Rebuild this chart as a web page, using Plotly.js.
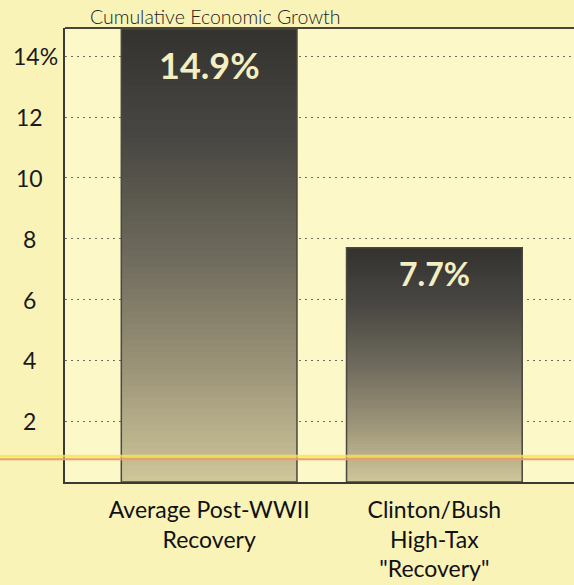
<!DOCTYPE html>
<html><head><meta charset="utf-8">
<script src="https://cdn.plot.ly/plotly-3.0.1.min.js"></script>
<style>html,body{margin:0;padding:0;background:#f9f3b8}</style>
</head><body><div id="chart" style="width:574px;height:585px"></div>
<script>
// ---- data ----
const categories = ["Average Post-WWII<br>Recovery", "Clinton/Bush<br>High-Tax<br>\"Recovery\""];
const values = [14.9, 7.7];
const valueLabels = ["14.9%", "7.7%"];
const yTickVals = [2, 4, 6, 8, 10, 12, 14];
const yTickText = ["2", "4", "6", "8", "10", "12", "14%"];
const referenceLineValue = 0.75;
const chartTitle = "Cumulative Economic Growth";

// ---- style ----
const gradStops = [[0, [207,198,154]], [0.25, [156,148,120]], [0.5, [110,106,92]], [0.75, [74,72,67]], [1, [51,50,48]]];
function gradColor(f) {
  for (let i = 0; i < gradStops.length - 1; i++) {
    const [f0, c0] = gradStops[i], [f1, c1] = gradStops[i + 1];
    if (f >= f0 && f <= f1) {
      const t = (f - f0) / (f1 - f0);
      const c = c0.map((v, j) => Math.round(v + (c1[j] - v) * t));
      return `rgb(${c[0]},${c[1]},${c[2]})`;
    }
  }
  return 'rgb(51,50,48)';
}
const N = 80;
const segX = [], segBase = [], segY = [], segCol = [];
values.forEach((v, i) => {
  for (let k = 0; k < N; k++) {
    const b = v * k / N;
    segX.push(categories[i]);
    segBase.push(b);
    segY.push(v - b);           // each segment reaches the bar top; later ones cover earlier
    segCol.push(gradColor((k + 0.5) / N));
  }
});
const barWidth = 0.78;

const traces = [
  { type: 'bar', x: segX, y: segY, base: segBase, width: barWidth,
    marker: { color: segCol, line: { width: 0 } }, hoverinfo: 'skip', showlegend: false },
  { type: 'bar', x: categories, y: values, width: barWidth,
    marker: { color: 'rgba(0,0,0,0)', line: { color: '#4a4840', width: 1.5 } },
    hoverinfo: 'skip', showlegend: false }
];

const annotations = [];
const labelSizes = [36, 32], labelShift = [-12, -4];
values.forEach((v, i) => {
  annotations.push({ x: categories[i], y: v, xref: 'x', yref: 'y', yanchor: 'top', yshift: labelShift[i],
    text: '<b>' + valueLabels[i] + '</b>', showarrow: false,
    font: { family: 'Lato, sans-serif', size: labelSizes[i], color: '#f4efc2' } });
});
yTickVals.forEach((v, i) => {
  const t = yTickText[i];
  annotations.push({ x: -65 / 509 + 29 / 509, xref: 'paper', y: v, yref: 'y', xanchor: 'center',
    xshift: t.includes('%') ? 6 : 0, text: t, showarrow: false,
    font: { family: 'Lato, sans-serif', size: 23, color: '#1a1a1a' } });
});

const layout = {
  width: 574, height: 585,
  margin: { l: 65, r: 0, t: 28, b: 103 },
  paper_bgcolor: '#f9f3b8', plot_bgcolor: '#fcf8c8',
  barmode: 'overlay',
  title: { text: chartTitle, xref: 'container', yref: 'container', x: 90 / 574, xanchor: 'left',
    y: 1 - 17 / 585, yanchor: 'middle', font: { family: 'Lato, sans-serif', size: 19.5, color: '#222', weight: 300 } },
  xaxis: { type: 'category', range: [-0.64, 1.62], showgrid: false, zeroline: false,
    showline: true, linecolor: '#3a3a34', linewidth: 2, ticks: '', ticklabelstandoff: 6,
    tickfont: { family: 'Lato, sans-serif', size: 23, color: '#111' } },
  yaxis: { range: [0, 14.93], tickvals: yTickVals, showticklabels: false, ticks: '',
    showgrid: true, gridcolor: '#6f6b5e', gridwidth: 1, griddash: '2px,4px', zeroline: false,
    showline: true, linecolor: '#3a3a34', linewidth: 2 },
  shapes: [
    { type: 'line', xref: 'paper', yref: 'paper', x0: 0, x1: 1, y0: 1, y1: 1,
      line: { color: '#4a4637', width: 2 }, layer: 'above' },
    { type: 'line', xref: 'paper', yref: 'y', x0: -0.13, x1: 1, y0: referenceLineValue + 0.1, y1: referenceLineValue + 0.1,
      line: { color: 'rgba(248,228,90,0.8)', width: 3 }, layer: 'above' },
    { type: 'line', xref: 'paper', yref: 'y', x0: -0.13, x1: 1, y0: referenceLineValue, y1: referenceLineValue,
      line: { color: '#ee9e62', width: 2 }, layer: 'above' }
  ],
  annotations: annotations
};

Plotly.newPlot('chart', traces, layout, { staticPlot: true, displayModeBar: false });
</script></body></html>
